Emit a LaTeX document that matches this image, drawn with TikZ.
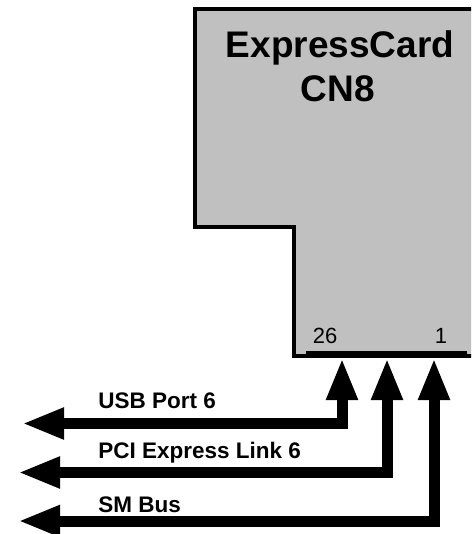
\documentclass[tikz,border=0pt]{standalone}
\usepackage{fontspec}
\setmainfont{Liberation Sans}
\usetikzlibrary{arrows.meta}
\tikzset{every picture/.style={line width=0.75pt}}
\tikzset{
  card/.style={fill=cardgray, draw=black, line width=4pt, line join=miter},
  bus/.style={line width=11pt, line join=miter,
    {Triangle[length=42pt,width=29pt]}-{Triangle[length=42pt,width=29pt]}},
  buslabel/.style={anchor=base west, inner sep=0pt,
    font=\fontsize{22.5}{26}\selectfont\bfseries},
  titlelabel/.style={anchor=base, inner sep=0pt,
    font=\fontsize{37}{42}\selectfont\bfseries},
  pinlabel/.style={anchor=base, inner sep=0pt,
    font=\fontsize{22}{26}\selectfont}
}
\definecolor{cardgray}{RGB}{192,192,192}

\begin{document}
\begin{tikzpicture}[x=1pt,y=-1pt]
    \clip (0,0) rectangle (471,534);

    % Card outline
    \draw[card] (195,9.5) -- (480,9.5) -- (480,356) -- (294,356)
        -- (294,227) -- (195,227) -- cycle;
    \fill[black] (306,351) rectangle (467,357);

    % Title
    \node[titlelabel] (title) at (340,58) {ExpressCard};
    \node[titlelabel] (cn) at (338,101.5) {CN8};

    % Pin numbers
    \node[pinlabel] (p26) at (325,343.5) {26};
    \node[pinlabel] (p1) at (441,343.5) {1};

    % Pins on the connector
    \coordinate (pin26) at (342,358);
    \coordinate (pinmid) at (387,358);
    \coordinate (pin1) at (434,358);

    % Left ends
    \coordinate (usb) at (22,423.5);
    \coordinate (pci) at (18,472.5);
    \coordinate (smb) at (18,521);

    % Buses
    \draw[bus] (usb) -- (usb -| pin26) -- (pin26);
    \draw[bus] (pci) -- (pci -| pinmid) -- (pinmid);
    \draw[bus] (smb) -- (smb -| pin1) -- (pin1);

    % Labels
    \node[buslabel] (usblabel) at (98,408.5) {USB Port 6};
    \node[buslabel] (pcilabel) at (98,458) {PCI Express Link 6};
    \node[buslabel] (smblabel) at (98,512) {SM Bus};
\end{tikzpicture}
\end{document}
